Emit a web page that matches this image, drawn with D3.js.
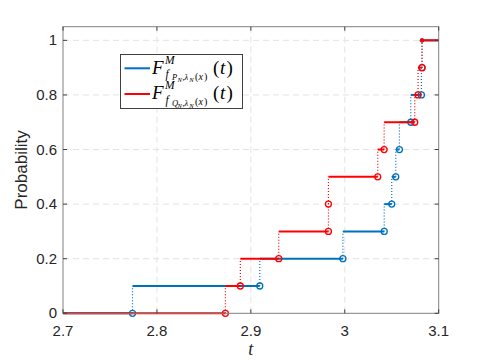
<!DOCTYPE html>
<html>
<head>
<meta charset="utf-8">
<script src="https://cdn.jsdelivr.net/npm/d3@7"></script>
<style>
  body { margin: 0; background: #fff; }
  svg { display: block; font-family: "Liberation Sans", Arial, sans-serif; }
</style>
</head>
<body>
<div id="chart"></div>
<script>
// jump times of the two empirical CDFs (10 samples each)
const blueT = [2.774, 2.9095, 2.998, 3.042, 3.050, 3.0543, 3.0582, 3.0703, 3.0816, 3.0822];
const redT = [2.8729, 2.8888, 2.9297, 2.9826, 2.9826, 3.0351, 3.0419, 3.0745, 3.078, 3.0823];
const levels = [0, 0.1, 0.2, 0.3, 0.4, 0.5, 0.6, 0.7, 0.8, 0.9, 1];
const xTicks = [2.7, 2.8, 2.9, 3, 3.1];
const yTicks = [0, 0.2, 0.4, 0.6, 0.8, 1];

const width = 485, height = 363;
const margin = { top: 26.7, right: 46.3, bottom: 49.7, left: 63 };
const iw = width - margin.left - margin.right;
const ih = height - margin.top - margin.bottom;

const svg = d3.select('#chart').append('svg')
    .attr('width', width)
    .attr('height', height);

const g = svg.append('g')
    .attr('transform', `translate(${margin.left}, ${margin.top})`);

const x = d3.scaleLinear().domain([2.7, 3.1]).range([0, iw]);
const y = d3.scaleLinear().domain([0, 1.05]).range([ih, 0]);

// grid
g.selectAll('.gx').data(xTicks.slice(1, -1)).enter().append('line')
    .attr('x1', d => x(d)).attr('x2', d => x(d))
    .attr('y1', 0).attr('y2', ih)
    .attr('stroke', '#e3e3e3').attr('stroke-dasharray', '6,4');
g.selectAll('.gy').data(yTicks.slice(1)).enter().append('line')
    .attr('x1', 0).attr('x2', iw)
    .attr('y1', d => y(d)).attr('y2', d => y(d))
    .attr('stroke', '#e3e3e3').attr('stroke-dasharray', '6,4');

// draw one ECDF: horizontal steps, circle at each jump, dotted riser
function drawEcdf(ts, color) {
    const xs = [2.7].concat(ts, [3.1]);
    const steps = g.append('g');
    for (let k = 0; k < xs.length - 1; k++) {
        steps.append('line')
            .attr('x1', x(xs[k])).attr('x2', x(xs[k + 1]))
            .attr('y1', y(levels[k])).attr('y2', y(levels[k]))
            .attr('stroke', color).attr('stroke-width', 2);
    }
    ts.forEach((t, k) => {
        steps.append('line')
            .attr('x1', x(t)).attr('x2', x(t))
            .attr('y1', y(levels[k])).attr('y2', y(levels[k + 1]))
            .attr('stroke', color).attr('stroke-width', 1.2)
            .attr('stroke-dasharray', '1,2');
    });
    ts.forEach((t, k) => {
        steps.append('circle')
            .attr('cx', x(t)).attr('cy', y(levels[k]))
            .attr('r', 3).attr('fill', 'none')
            .attr('stroke', color).attr('stroke-width', 1.3);
    });
    const last = ts[ts.length - 1];
    steps.append('circle')
        .attr('cx', x(last)).attr('cy', y(1))
        .attr('r', 2.2).attr('fill', color);
}

drawEcdf(blueT, '#0072BD');
drawEcdf(redT, '#FF0000');

// box + ticks
const axisColor = '#808080';
g.append('rect')
    .attr('width', iw).attr('height', ih)
    .attr('fill', 'none').attr('stroke', axisColor).attr('stroke-width', 1);

const tl = 4;
xTicks.forEach(t => {
    g.append('line').attr('x1', x(t)).attr('x2', x(t)).attr('y1', ih).attr('y2', ih - tl).attr('stroke', '#404040');
    g.append('line').attr('x1', x(t)).attr('x2', x(t)).attr('y1', 0).attr('y2', tl).attr('stroke', '#404040');
    g.append('text').attr('x', x(t)).attr('y', ih + 22.5)
        .attr('text-anchor', 'middle').attr('font-size', 15).attr('fill', '#262626')
        .text(d3.format('~g')(t));
});
yTicks.forEach(t => {
    g.append('line').attr('x1', 0).attr('x2', tl).attr('y1', y(t)).attr('y2', y(t)).attr('stroke', '#404040');
    g.append('line').attr('x1', iw).attr('x2', iw - tl).attr('y1', y(t)).attr('y2', y(t)).attr('stroke', '#404040');
    g.append('text').attr('x', -6).attr('y', y(t) + 5)
        .attr('text-anchor', 'end').attr('font-size', 15).attr('fill', '#262626')
        .text(d3.format('~g')(t));
});

// axis labels
svg.append('text')
    .attr('transform', `translate(27, ${margin.top + ih / 2}) rotate(-90)`)
    .attr('text-anchor', 'middle').attr('font-size', 17).attr('fill', '#262626')
    .text('Probability');
svg.append('text')
    .attr('x', margin.left + iw / 2).attr('y', 355)
    .attr('text-anchor', 'middle').attr('font-size', 18).attr('font-style', 'italic')
    .attr('font-family', '"Liberation Serif", serif').attr('fill', '#262626')
    .text('t');

// legend
const lg = svg.append('g');
lg.append('rect')
    .attr('x', 120.5).attr('y', 54.5).attr('width', 122).attr('height', 54)
    .attr('fill', '#fff').attr('stroke', '#404040').attr('stroke-width', 1);

const entries = [
    { color: '#0072BD', sub: 'P', ly: 68.3, by: 73.5 },
    { color: '#FF0000', sub: 'Q', ly: 94, by: 99 }
];
const serif = '"Liberation Serif", "DejaVu Serif", serif';
entries.forEach(e => {
    lg.append('line').attr('x1', 124.5).attr('x2', 150).attr('y1', e.ly).attr('y2', e.ly)
        .attr('stroke', e.color).attr('stroke-width', 2);
    const pieces = [
        ['F', 152, 0, 19, true],
        ['M', 165, -10, 11.5, true],
        ['f', 165.5, 4.5, 11.5, true],
        [e.sub, 172, 6.5, 8.5, true],
        ['N', 177.5, 8.5, 6.5, true],
        [',', 182.5, 6.5, 8.5, false],
        ['λ', 184.5, 6.5, 8.5, true],
        ['N', 189.3, 8.5, 6.5, true],
        ['(', 195, 6, 10, false],
        ['x', 198.5, 6, 10, true],
        [')', 204, 6, 10, false],
        ['(', 213, 0, 19, false],
        ['t', 220, 0, 19, true],
        [')', 226.5, 0, 19, false]
    ];
    // one text element per label, pieces placed as tspans
    const txt = lg.append('text')
        .attr('font-family', serif).attr('fill', '#000');
    pieces.forEach(([s, px, dy, fs, it]) => {
        txt.append('tspan').attr('x', px).attr('y', e.by + dy)
            .attr('font-size', fs)
            .attr('font-style', it ? 'italic' : 'normal')
            .text(s);
    });
});
</script>
</body>
</html>
